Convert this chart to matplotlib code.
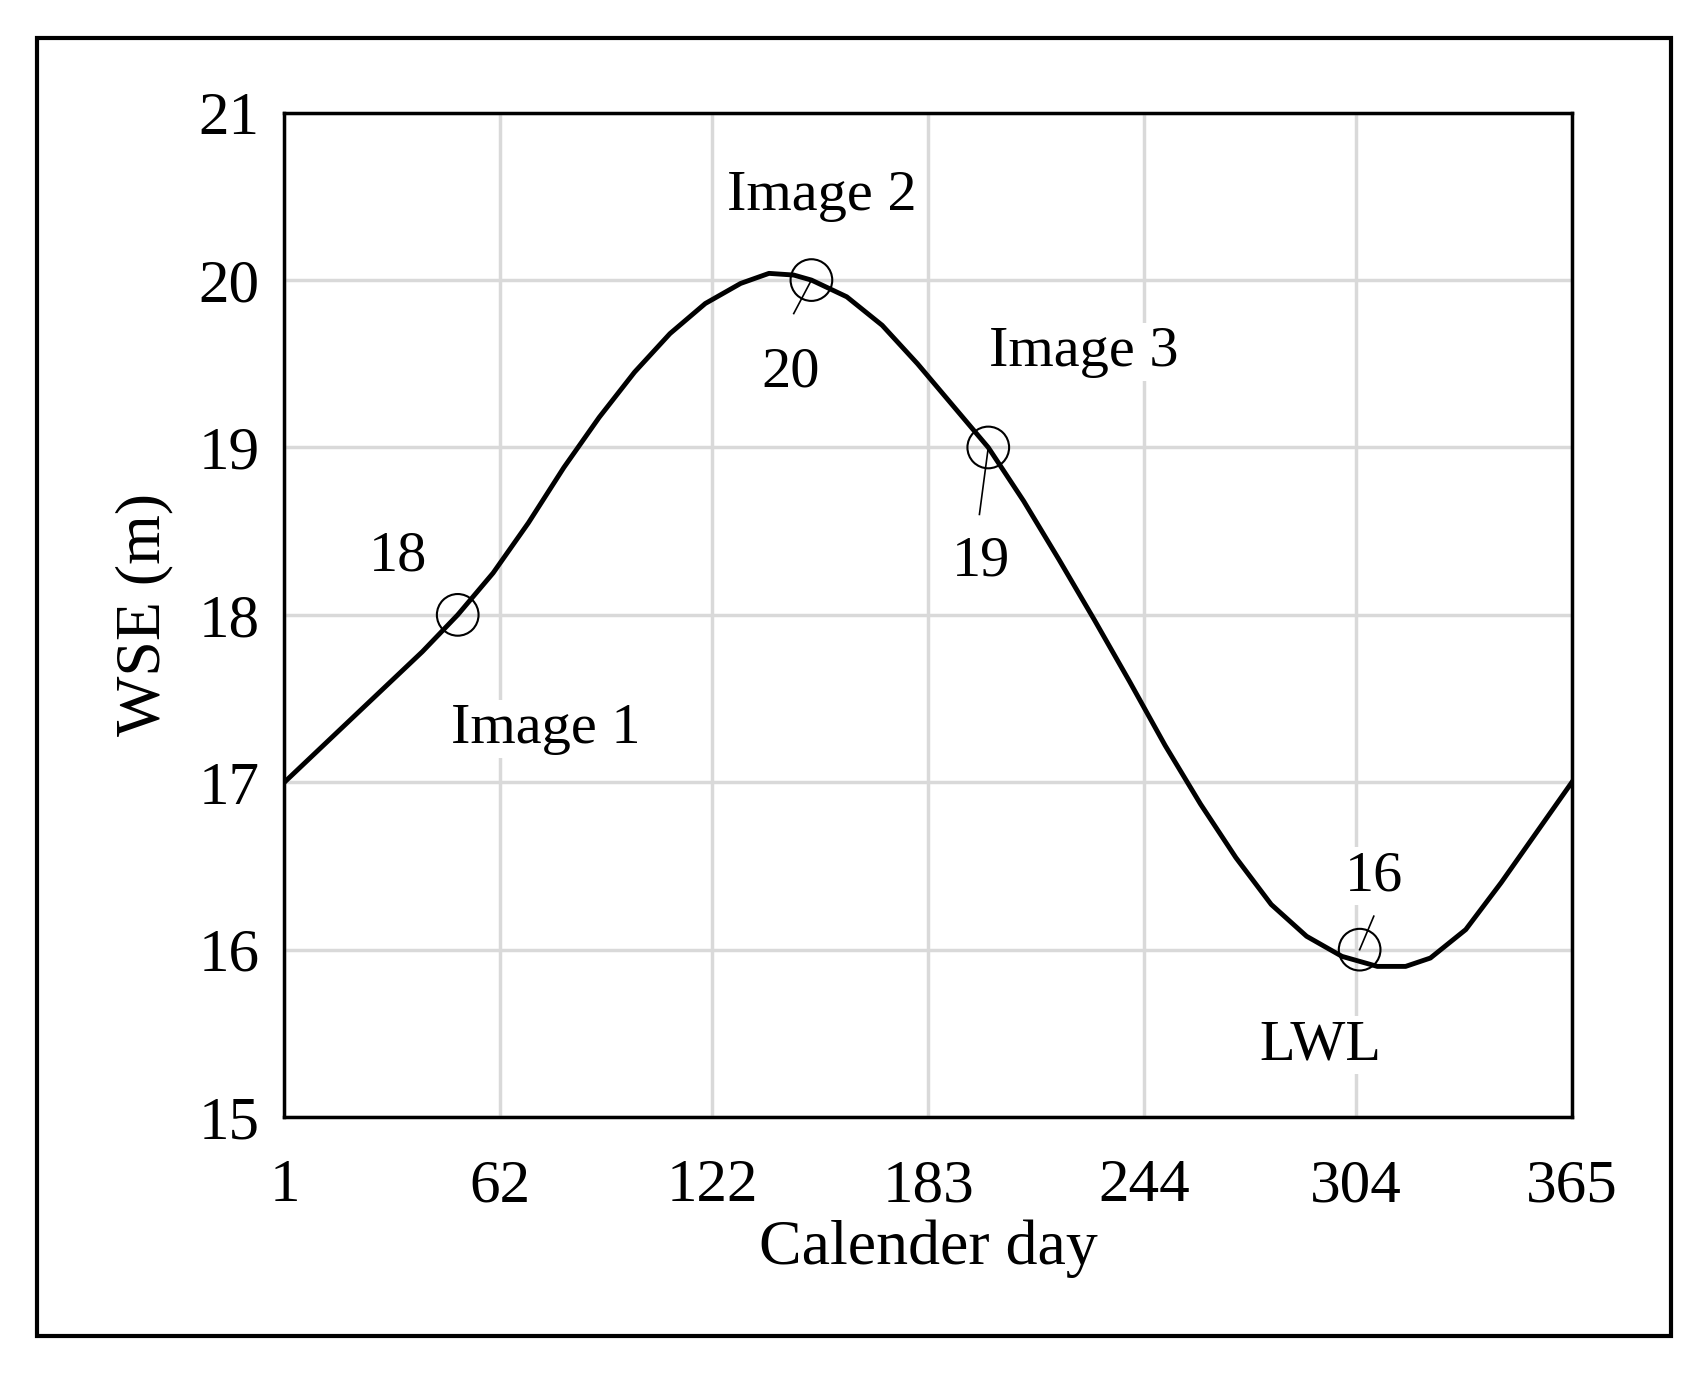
import matplotlib.pyplot as plt
from matplotlib.patches import Rectangle

plt.rcParams['font.family'] = ['Liberation Serif', 'DejaVu Serif']

# curve values
day = [1, 10, 20, 30, 40, 50, 60, 70, 80, 90, 100, 110, 120, 130, 138, 145, 150,
       160, 170, 180, 190, 200, 210, 220, 230, 240, 250, 260, 270, 280, 290, 300,
       310, 318, 325, 335, 345, 355, 365]
wse = [17.0, 17.18, 17.38, 17.58, 17.78, 18.0, 18.25, 18.55, 18.88, 19.18, 19.45,
       19.68, 19.86, 19.98, 20.04, 20.03, 20.0, 19.9, 19.73, 19.5, 19.25, 19.0,
       18.68, 18.33, 17.97, 17.6, 17.22, 16.87, 16.55, 16.27, 16.08, 15.96, 15.9,
       15.9, 15.95, 16.12, 16.4, 16.7, 17.0]

# marked points
pt_day = [50, 150, 200, 305]
pt_wse = [18, 20, 19, 16]

# text labels: (text, x, y)
labels = [('Image 1', 75, 17.32), ('Image 2', 153, 20.5), ('Image 3', 227, 19.57),
          ('LWL', 294, 15.43), ('18', 33, 18.35), ('20', 144, 19.45),
          ('19', 198, 18.32), ('16', 309, 16.44)]
# leader lines
leaders = [((150, 20.0), (145, 19.8)), ((200, 19.0), (197.5, 18.6)),
           ((305, 16.0), (309, 16.2))]

xticks = [1, 62, 122, 183, 244, 304, 365]

fig = plt.figure(figsize=(17.03, 13.74), dpi=100)
ax = fig.add_axes([0.167, 0.187, 0.756, 0.731])

ax.plot(day, wse, color='black', lw=3.5, zorder=3, solid_joinstyle='round')
ax.scatter(pt_day, pt_wse, s=900, facecolors='none', edgecolors='black',
           linewidths=1.5, zorder=4)
for (x0, y0), (x1, y1) in leaders:
    ax.plot([x0, x1], [y0, y1], color='black', lw=1.2, zorder=4)
for t, x, y in labels:
    ax.text(x, y, t, fontsize=42, ha='center', va='center', zorder=2,
            bbox=dict(facecolor='white', edgecolor='none', pad=2))

ax.set_xlim(1, 365)
ax.set_ylim(15, 21)
ax.set_xticks(xticks)
ax.set_yticks(range(15, 22))
ax.grid(True, color='#d9d9d9', lw=2.5, zorder=0)
ax.set_axisbelow(True)
ax.tick_params(length=0, labelsize=44)
ax.tick_params(axis='x', pad=30)
ax.tick_params(axis='y', pad=18)
for s in ax.spines.values():
    s.set_linewidth(2.5)
ax.set_xlabel('Calender day', fontsize=46, labelpad=4)
ax.set_ylabel('WSE (m)', fontsize=46, labelpad=18)

fig.patches.append(Rectangle((0.022, 0.028), 0.959, 0.944, transform=fig.transFigure,
                             fill=False, edgecolor='black', lw=3))
fig.savefig('out.png', dpi=100, facecolor='white')
